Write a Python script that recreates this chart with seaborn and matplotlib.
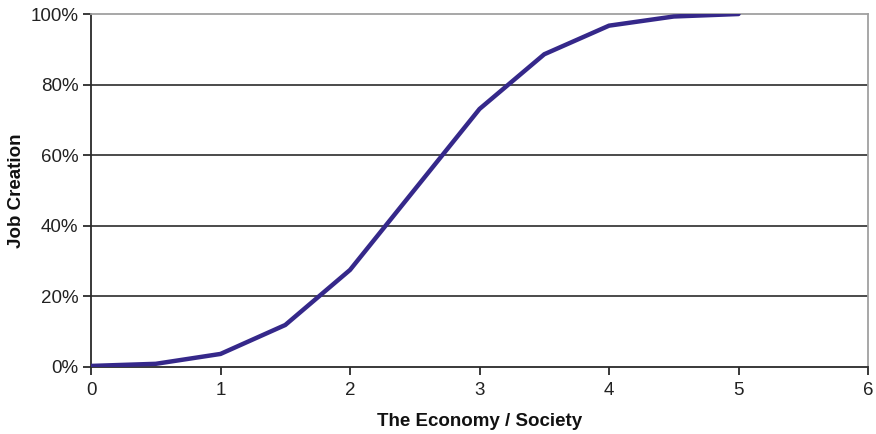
import matplotlib
matplotlib.use("Agg")
import matplotlib.pyplot as plt
import seaborn as sns
import pandas as pd
from matplotlib.ticker import FuncFormatter

economy = [0, 0.5, 1, 1.5, 2, 2.5, 3, 3.5, 4, 4.5, 5]
job_creation = [0.3, 0.9, 3.7, 11.9, 27.5, 50.3, 73.1, 88.6, 96.7, 99.3, 100.0]

df = pd.DataFrame({"economy": economy, "jobs": job_creation})

sns.set_style("white")
plt.rcParams["font.family"] = ["Liberation Sans", "DejaVu Sans"]

fig = plt.figure(figsize=(8.76, 4.34), dpi=100)
ax = fig.add_axes([0.1039, 0.1544, 0.8870, 0.8133])

sns.lineplot(data=df, x="economy", y="jobs", ax=ax, color="#35288a",
             linewidth=3.2, zorder=3)

ax.set_xlim(0, 6)
ax.set_ylim(0, 100)
ax.set_xticks(range(0, 7))
ax.set_yticks(range(0, 101, 20))
ax.yaxis.set_major_formatter(FuncFormatter(lambda v, _: f"{int(v)}%"))

for y in range(20, 100, 20):
    ax.axhline(y, color="#1a1a1a", linewidth=1.1, zorder=1)

for side in ("left", "bottom"):
    ax.spines[side].set_color("#2a2a2a")
    ax.spines[side].set_linewidth(1.3)
for side in ("top", "right"):
    ax.spines[side].set_color("#a0a0a0")
    ax.spines[side].set_linewidth(1.3)
    ax.spines[side].set_visible(True)

ax.tick_params(axis="both", direction="out", length=6, width=1.3,
               color="#2a2a2a", labelsize=13.5, labelcolor="#222222",
               bottom=True, left=True)
ax.tick_params(axis="x", pad=5)
ax.tick_params(axis="y", pad=3)

ax.set_xlabel("The Economy / Society", fontsize=13.5, fontweight="bold",
              labelpad=10, color="#111111")
ax.set_ylabel("Job Creation", fontsize=13.5, fontweight="bold",
              labelpad=4, color="#111111")

fig.savefig("out.png", dpi=100)
